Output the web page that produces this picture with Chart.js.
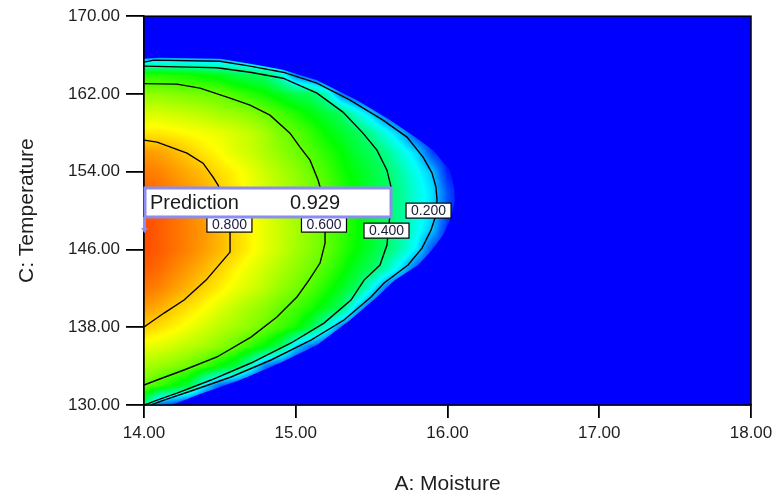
<!DOCTYPE html>
<html><head><meta charset="utf-8">
<script src="https://cdn.jsdelivr.net/npm/chart.js@4.4.1/dist/chart.umd.min.js"></script>
<style>html,body{margin:0;padding:0;background:#fff;}#wrap{width:783px;height:500px;}</style>
</head><body><div id="wrap"><canvas id="c" width="783" height="500"></canvas></div>
<script>
// ---- data ----
const xTicks = [14, 15, 16, 17, 18];
const yTicks = [130, 138, 146, 154, 162, 170];
const xTitle = 'A: Moisture';
const yTitle = 'C: Temperature';

// grid of desirability values (rows = temperature, columns = moisture)
const moistureGrid = [14.0,14.1,14.2,14.3,14.4,14.5,14.6,14.7,14.8,14.9,15.0,15.1,15.2,15.3,15.4,15.5,15.6,15.7,15.8,15.9,16.0,16.1,16.2,18.0];
const temperatureGrid = [130,132,134,136,138,140,142,144,146,148,150,152,154,156,158,160,162,164,166,168,170];
const row130 = [0.40,0.10,0.05,0,0,0,0,0,0,0,0,0,0,0,0,0,0,0,0,0,0,0,0,0];
const row132 = [0.60,0.56,0.50,0.43,0.23,0.10,0.05,0,0,0,0,0,0,0,0,0,0,0,0,0,0,0,0,0];
const row134 = [0.665,0.65,0.63,0.605,0.56,0.50,0.44,0.30,0.12,0.05,0,0,0,0,0,0,0,0,0,0,0,0,0,0];
const row136 = [0.73,0.72,0.70,0.68,0.66,0.635,0.60,0.55,0.49,0.41,0.21,0.10,0.05,0,0,0,0,0,0,0,0,0,0,0];
const row138 = [0.80,0.78,0.76,0.735,0.71,0.68,0.66,0.635,0.605,0.565,0.52,0.43,0.29,0.12,0.05,0,0,0,0,0,0,0,0,0];
const row140 = [0.85,0.83,0.80,0.775,0.75,0.72,0.69,0.66,0.635,0.60,0.57,0.525,0.47,0.405,0.21,0.08,0.03,0,0,0,0,0,0,0];
const row142 = [0.885,0.87,0.845,0.82,0.79,0.765,0.735,0.71,0.68,0.645,0.615,0.58,0.53,0.47,0.41,0.26,0.10,0.04,0,0,0,0,0,0];
const row144 = [0.91,0.895,0.87,0.845,0.82,0.79,0.76,0.73,0.70,0.67,0.64,0.61,0.57,0.52,0.46,0.41,0.32,0.21,0.08,0.03,0,0,0,0];
const row146 = [0.925,0.91,0.89,0.87,0.845,0.82,0.79,0.76,0.725,0.695,0.66,0.63,0.60,0.55,0.50,0.45,0.395,0.32,0.23,0.07,0.03,0,0,0];
const row148 = [0.93,0.91,0.89,0.87,0.85,0.82,0.79,0.76,0.725,0.695,0.665,0.635,0.60,0.555,0.51,0.46,0.405,0.34,0.27,0.19,0.03,0,0,0];
const row150 = [0.92,0.91,0.89,0.87,0.84,0.815,0.785,0.75,0.72,0.69,0.66,0.63,0.60,0.55,0.51,0.46,0.41,0.35,0.28,0.22,0.08,0,0,0];
const row152 = [0.90,0.89,0.87,0.85,0.83,0.80,0.77,0.74,0.71,0.68,0.65,0.62,0.59,0.54,0.50,0.45,0.41,0.35,0.28,0.22,0.08,0,0,0];
const row154 = [0.88,0.87,0.85,0.83,0.81,0.78,0.76,0.73,0.70,0.67,0.64,0.605,0.57,0.52,0.48,0.44,0.40,0.33,0.26,0.19,0.03,0,0,0];
const row156 = [0.85,0.84,0.82,0.795,0.77,0.75,0.72,0.70,0.67,0.64,0.61,0.58,0.54,0.50,0.45,0.415,0.36,0.28,0.21,0.06,0,0,0,0];
const row158 = [0.77,0.77,0.76,0.75,0.74,0.73,0.71,0.69,0.66,0.62,0.59,0.55,0.50,0.46,0.42,0.35,0.27,0.18,0.05,0,0,0,0,0];
const row160 = [0.71,0.71,0.70,0.69,0.68,0.66,0.65,0.63,0.605,0.57,0.53,0.49,0.45,0.41,0.29,0.20,0.08,0,0,0,0,0,0,0];
const row162 = [0.64,0.64,0.63,0.62,0.61,0.60,0.57,0.54,0.51,0.47,0.43,0.41,0.32,0.12,0.05,0,0,0,0,0,0,0,0,0];
const row164 = [0.53,0.53,0.52,0.51,0.49,0.47,0.43,0.41,0.39,0.29,0.12,0.05,0,0,0,0,0,0,0,0,0,0,0,0];
const row166 = [0.10,0.10,0.10,0.10,0.10,0.10,0.10,0.08,0.05,0.03,0,0,0,0,0,0,0,0,0,0,0,0,0,0];
const row168 = [0,0,0,0,0,0,0,0,0,0,0,0,0,0,0,0,0,0,0,0,0,0,0,0];
const row170 = [0,0,0,0,0,0,0,0,0,0,0,0,0,0,0,0,0,0,0,0,0,0,0,0];
const desirability = [row130,row132,row134,row136,row138,row140,row142,row144,row146,row148,row150,row152,row154,row156,row158,row160,row162,row164,row166,row168,row170];

// outer limit of the non-zero region (where the plain blue starts) [moisture, temperature]
const zeroBoundary = [[14.000,165.63],[14.105,165.73],[14.501,165.63],[14.699,165.12],[14.916,164.50],[15.140,163.42],[15.404,161.36],[15.621,159.31],[15.786,157.56],[15.905,156.22],[16.016,154.16],[16.043,152.42],[16.049,151.08],[16.023,149.23],[15.970,147.48],[15.898,145.94],[15.806,144.40],[15.654,142.85],[15.535,141.11],[15.358,138.74],[15.140,136.17],[14.896,134.32],[14.633,132.57],[14.369,131.13],[14.217,130.21],[14.185,130.00],[14.000,130.00]];

// contour lines [moisture, temperature]
const contour080 = [[14.000,157.25],[14.086,157.04],[14.283,155.91],[14.389,154.88],[14.455,153.44],[14.488,152.62],[14.527,151.08],[14.560,149.23],[14.567,147.69],[14.567,145.73],[14.488,144.29],[14.409,142.85],[14.264,140.80],[14.132,139.46],[14.000,138.02]];
const contour060 = [[14.000,163.06],[14.217,163.01],[14.369,162.60],[14.567,161.57],[14.699,160.85],[14.830,159.82],[14.962,157.97],[15.028,156.53],[15.094,155.19],[15.147,153.14],[15.166,152.11],[15.186,150.57],[15.193,148.82],[15.193,146.66],[15.160,144.60],[15.087,142.85],[15.008,141.11],[14.876,139.05],[14.705,136.99],[14.481,134.94],[14.264,133.60],[14.086,132.57],[14.000,132.06]];
const contour040 = [[14.000,164.86],[14.303,164.76],[14.481,164.70],[14.699,164.24],[14.916,163.62],[15.140,162.08],[15.311,160.13],[15.443,157.97],[15.535,156.22],[15.601,154.16],[15.628,152.42],[15.628,150.57],[15.614,148.51],[15.601,146.45],[15.555,144.40],[15.450,142.85],[15.364,140.80],[15.186,138.43],[14.969,136.38],[14.705,134.32],[14.442,132.57],[14.217,131.23],[14.086,130.51],[14.020,130.10],[14.000,130.00]];
const contour020 = [[14.000,165.27],[14.066,165.48],[14.501,165.37],[14.699,164.86],[14.916,164.24],[15.140,163.11],[15.358,161.36],[15.575,159.31],[15.733,157.56],[15.839,155.50],[15.898,153.86],[15.924,152.42],[15.931,151.08],[15.924,149.54],[15.891,147.99],[15.832,146.14],[15.740,144.40],[15.582,142.55],[15.496,141.11],[15.318,138.74],[15.100,136.68],[14.837,134.63],[14.573,132.88],[14.329,131.54],[14.132,130.51],[14.046,130.00]];

const contourLabels = ['0.800', '0.600', '0.400', '0.200'];
const labelMoisture = [14.563, 15.186, 15.598, 15.875];
const labelTemperature = [148.56, 148.56, 147.94, 150.00];

const predictionName = 'Prediction';
const predictionValue = 0.929;
const predictionMoisture = 14.00;
const predictionTemperature = 147.8;

// ---- rendering ----
const FONT = "'Liberation Sans', Arial, sans-serif";

function findCell(arr, v) {
  if (v <= arr[0]) return [0, 0];
  for (let i = 0; i < arr.length - 1; i++) {
    if (v <= arr[i + 1]) return [i, (v - arr[i]) / (arr[i + 1] - arr[i])];
  }
  return [arr.length - 2, 1];
}
function sampleGrid(a, t) {
  const [i, fx] = findCell(moistureGrid, a);
  const [j, fy] = findCell(temperatureGrid, t);
  const r0 = desirability[j], r1 = desirability[j + 1];
  const v0 = r0[i] * (1 - fx) + r0[i + 1] * fx;
  const v1 = r1[i] * (1 - fx) + r1[i + 1] * fx;
  return v0 * (1 - fy) + v1 * fy;
}
const stops = [[0,[0,0,255]],[0.25,[0,255,255]],[0.5,[0,255,0]],[0.75,[255,255,0]],[1,[255,0,0]]];
function colorFor(d) {
  d = Math.max(0, Math.min(1, d));
  for (let k = 0; k < stops.length - 1; k++) {
    const [p0, c0] = stops[k], [p1, c1] = stops[k + 1];
    if (d <= p1) {
      const f = (d - p0) / (p1 - p0);
      return [c0[0] + (c1[0] - c0[0]) * f, c0[1] + (c1[1] - c0[1]) * f, c0[2] + (c1[2] - c0[2]) * f];
    }
  }
  return stops[stops.length - 1][1];
}

const heatmapPlugin = {
  id: 'heatmap',
  beforeDatasetsDraw(chart) {
    const { ctx, chartArea: a, scales: { x, y } } = chart;
    const w = Math.round(a.right - a.left), h = Math.round(a.bottom - a.top);
    const off = document.createElement('canvas');
    off.width = w; off.height = h;
    const octx = off.getContext('2d');
    const img = octx.createImageData(w, h);
    for (let j = 0; j < h; j++) {
      const t = y.getValueForPixel(a.top + j + 0.5);
      for (let i = 0; i < w; i++) {
        const m = x.getValueForPixel(a.left + i + 0.5);
        const c = colorFor(sampleGrid(m, t));
        const p = (j * w + i) * 4;
        img.data[p] = c[0]; img.data[p + 1] = c[1]; img.data[p + 2] = c[2]; img.data[p + 3] = 255;
      }
    }
    octx.putImageData(img, 0, 0);
    ctx.save();
    ctx.drawImage(off, a.left, a.top);
    // everything outside the non-zero region is plain blue (value 0)
    ctx.beginPath();
    ctx.rect(a.left, a.top, a.right - a.left, a.bottom - a.top);
    zeroBoundary.forEach((p, k) => {
      const px = x.getPixelForValue(p[0]), py = y.getPixelForValue(p[1]);
      if (k === 0) ctx.moveTo(px, py); else ctx.lineTo(px, py);
    });
    ctx.closePath();
    ctx.fillStyle = 'rgb(0,0,255)';
    ctx.fill('evenodd');
    ctx.restore();
  }
};

const overlayPlugin = {
  id: 'overlay',
  afterDatasetsDraw(chart) {
    const { ctx, chartArea: a, scales: { x, y } } = chart;
    ctx.save();
    ctx.strokeStyle = '#000';
    ctx.lineWidth = 1.5;
    ctx.strokeRect(a.left, a.top, a.right - a.left, a.bottom - a.top);
    ctx.font = '14px ' + FONT;
    ctx.textAlign = 'center';
    ctx.textBaseline = 'middle';
    for (let k = 0; k < contourLabels.length; k++) {
      const px = x.getPixelForValue(labelMoisture[k]);
      const py = y.getPixelForValue(labelTemperature[k]);
      ctx.fillStyle = '#fff';
      ctx.fillRect(px - 22.5, py - 7.5, 45, 15);
      ctx.strokeStyle = '#000';
      ctx.lineWidth = 1.2;
      ctx.strokeRect(px - 22.5, py - 7.5, 45, 15);
      ctx.fillStyle = '#1a1a3a';
      ctx.fillText(contourLabels[k], px, py + 1);
    }
    const fx = x.getPixelForValue(predictionMoisture);
    const fy = y.getPixelForValue(predictionTemperature);
    const bx = fx, by = fy - 44, bw = 247, bh = 29;
    ctx.fillStyle = '#fff';
    ctx.fillRect(bx, by, bw, bh);
    ctx.strokeStyle = '#8c8cf5';
    ctx.lineWidth = 3;
    ctx.strokeRect(bx + 1, by, bw - 1, bh);
    ctx.beginPath();
    ctx.moveTo(bx + 0.5, by + bh);
    ctx.lineTo(bx + 0.5, fy - 2);
    ctx.stroke();
    ctx.fillStyle = '#8c8cf5';
    ctx.beginPath();
    ctx.moveTo(bx - 3, fy - 4); ctx.lineTo(bx + 4, fy - 4); ctx.lineTo(bx + 0.5, fy + 1); ctx.closePath();
    ctx.fill();
    ctx.fillStyle = '#1a1a1a';
    ctx.font = '20px ' + FONT;
    ctx.textAlign = 'left';
    ctx.textBaseline = 'middle';
    ctx.fillText(predictionName, bx + 6, by + bh / 2 + 1);
    ctx.fillText(predictionValue.toFixed(3), bx + 146, by + bh / 2 + 1);
    ctx.restore();
  }
};

const toPts = arr => arr.map(p => ({ x: p[0], y: p[1] }));
const lineDs = (arr, lvl) => ({
  label: 'd=' + lvl, data: toPts(arr), showLine: true, borderColor: '#000', borderWidth: 1.4,
  pointRadius: 0, fill: false, tension: 0
});

new Chart(document.getElementById('c'), {
  type: 'scatter',
  data: { datasets: [lineDs(contour080, 0.8), lineDs(contour060, 0.6), lineDs(contour040, 0.4), lineDs(contour020, 0.2)] },
  options: {
    responsive: false, animation: false, devicePixelRatio: 1,
    layout: { padding: { left: 0, right: 32, top: 16, bottom: 0 } },
    plugins: { legend: { display: false }, tooltip: { enabled: false } },
    scales: {
      x: {
        type: 'linear', min: 14, max: 18,
        afterBuildTicks: s => { s.ticks = xTicks.map(v => ({ value: v })); },
        afterFit: s => { s.height = 95; },
        ticks: { callback: v => Number(v).toFixed(2), font: { size: 17, family: FONT }, color: '#1e1e1e', padding: 5, maxRotation: 0 },
        grid: { drawOnChartArea: false, drawTicks: true, tickLength: 13, color: '#000', lineWidth: 1.8 },
        border: { display: true, color: '#000', width: 1.5 },
        title: { display: true, text: xTitle, font: { size: 21, family: FONT, lineHeight: 1.2 }, color: '#1e1e1e', padding: { top: 0, bottom: 3.5 } }
      },
      y: {
        type: 'linear', min: 130, max: 170,
        afterBuildTicks: s => { s.ticks = yTicks.map(v => ({ value: v })); },
        afterFit: s => { s.width = 144; },
        ticks: { callback: v => Number(v).toFixed(2), font: { size: 17, family: FONT }, color: '#1e1e1e', padding: 6 },
        grid: { drawOnChartArea: false, drawTicks: true, tickLength: 18, color: '#000', lineWidth: 1.8 },
        border: { display: true, color: '#000', width: 1.5 },
        title: { display: true, text: yTitle, font: { size: 21, family: FONT, lineHeight: 1.2 }, color: '#1e1e1e', padding: { top: 15, bottom: 0 } }
      }
    }
  },
  plugins: [heatmapPlugin, overlayPlugin]
});
</script></body></html>
